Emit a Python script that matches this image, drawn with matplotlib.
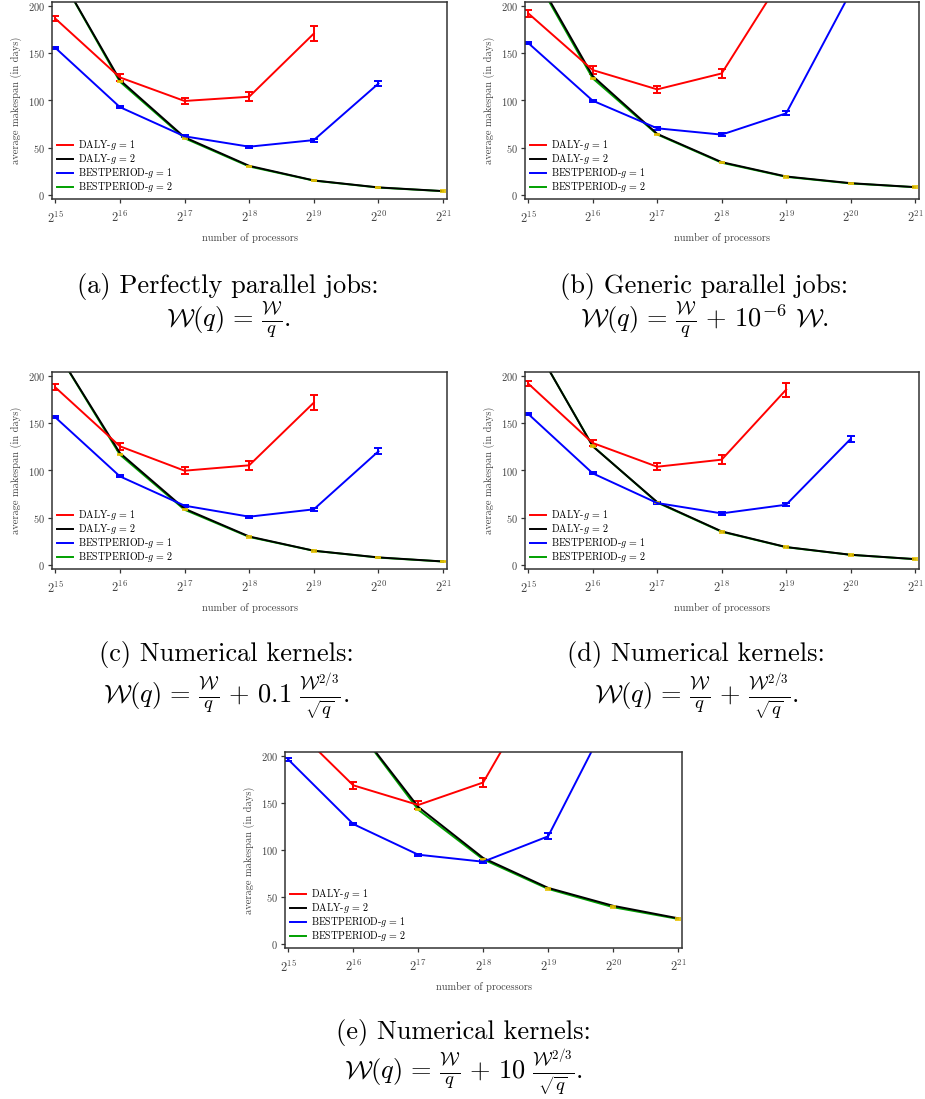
import matplotlib.pyplot as plt
from matplotlib.ticker import NullLocator

plt.rcParams['font.family'] = 'serif'
plt.rcParams['font.serif'] = ['cmr10']
plt.rcParams['mathtext.fontset'] = 'cm'
plt.rcParams['axes.unicode_minus'] = False
plt.rcParams['axes.formatter.use_mathtext'] = True

# number of processors, 2^15 .. 2^21
exponents = [15, 16, 17, 18, 19, 20, 21]
procs = [2 ** e for e in exponents]
yticks = [0, 50, 100, 150, 200]

# (a) perfectly parallel
daly1_a = [187, 124.5, 99.5, 104, 171]
daly1_err_a = [3, 3.5, 3.5, 4.5, 8]
daly2_a = [241, 121.7, 61, 30.7, 15.2, 7.8, 3.9]
best1_a = [156, 93, 62, 51, 58, 118]
best1_err_a = [1.2, 1, 1.2, 1.2, 1.5, 3]
best2_a = [241, 120, 60, 30, 15, 7.6, 3.8]

# (b) generic parallel
daly1_b = [192.5, 132.3, 111.8, 128.7, 237]
daly1_err_b = [3.5, 4, 4, 5, 8]
daly2_b = [246, 126, 64.6, 34.6, 19.4, 12.3, 8.1]
best1_b = [161, 99.8, 70.5, 63.8, 86.4, 215]
best1_err_b = [1, 1, 1.5, 1.5, 2, 3]
best2_b = [244, 123.5, 64, 34, 19, 12, 8]

# (c) numerical kernels, 0.1
daly1_c = [188.3, 125.7, 99.8, 105.5, 172]
daly1_err_c = [3, 3.5, 3.5, 4.5, 8]
daly2_c = [229, 118.6, 59.5, 30, 14.9, 7.8, 3.5]
best1_c = [156.5, 93.8, 62.7, 51, 58.8, 120.4]
best1_err_c = [1, 1, 1.2, 1.2, 1.5, 3]
best2_c = [229, 116.8, 58.4, 29.5, 14.8, 7.6, 3.4]

# (d) numerical kernels, 1
daly1_d = [192.2, 129.2, 104, 111.5, 185.8]
daly1_err_d = [3, 3.5, 4, 5, 7.5]
daly2_d = [245, 125.7, 66.5, 35.4, 18.8, 10.6, 6]
best1_d = [160, 97, 65.5, 54.5, 63.7, 133.5]
best1_err_d = [1, 1, 1.2, 1.2, 1.8, 3]
best2_d = [245, 126, 66, 35, 18.6, 10.5, 5.9]

# (e) numerical kernels, 10
daly1_e = [237, 169, 148, 172, 292]
daly1_err_e = [4, 4, 4, 5, 8]
daly2_e = [480, 235.5, 146, 91.5, 59.6, 40.5, 27.2]
best1_e = [196.5, 127.7, 95, 87.5, 114.6, 250]
best1_err_e = [1.5, 1.2, 1.2, 1.5, 3, 4]
best2_e = [475, 235, 143, 90, 58.5, 39, 26.5]

labels = [r'DALY-$g\,=\,1$', r'DALY-$g\,=\,2$',
          r'BESTPERIOD-$g\,=\,1$', r'BESTPERIOD-$g\,=\,2$']

captions = [
    '(a) Perfectly parallel jobs:',
    '(b) Generic parallel jobs:',
    '(c) Numerical kernels:',
    '(d) Numerical kernels:',
    '(e) Numerical kernels:',
]
formulas = [
    r'$\mathcal{W}(q)\,=\,\frac{\mathcal{W}}{q}.$',
    r'$\mathcal{W}(q)\,=\,\frac{\mathcal{W}}{q}\,+\,10^{-6}\ \mathcal{W}.$',
    r'$\mathcal{W}(q)\,=\,\frac{\mathcal{W}}{q}\,+\,0.1\ \frac{\mathcal{W}^{2/3}}{\sqrt{q}}.$',
    r'$\mathcal{W}(q)\,=\,\frac{\mathcal{W}}{q}\,+\,\frac{\mathcal{W}^{2/3}}{\sqrt{q}}.$',
    r'$\mathcal{W}(q)\,=\,\frac{\mathcal{W}}{q}\,+\,10\ \frac{\mathcal{W}^{2/3}}{\sqrt{q}}.$',
]

panels = [
    (daly1_a, daly1_err_a, daly2_a, best1_a, best1_err_a, best2_a),
    (daly1_b, daly1_err_b, daly2_b, best1_b, best1_err_b, best2_b),
    (daly1_c, daly1_err_c, daly2_c, best1_c, best1_err_c, best2_c),
    (daly1_d, daly1_err_d, daly2_d, best1_d, best1_err_d, best2_d),
    (daly1_e, daly1_err_e, daly2_e, best1_e, best1_err_e, best2_e),
]

W, H = 925, 1099
# axes boxes in pixels: x0, x1, y0 (top), y1 (bottom)
boxes = [(52, 447, 2, 199), (525, 919, 2, 199),
         (52, 447, 372, 569), (525, 919, 372, 569),
         (285, 682, 752, 948)]
# caption centers: x, y of first line, y of formula
cap_pos = [(228, 286, 321), (704, 286, 321),
           (226, 654, 697), (696, 654, 697),
           (463, 1032, 1073)]

RED, BLACK, BLUE, GREEN, YELLOW = '#FF0000', '#000000', '#0000FF', '#00A000', '#E6C200'
FRAME = '#333333'
LW = 1.4

fig = plt.figure(figsize=(W / 100, H / 100), dpi=100)

for (x0, x1, y0, y1), data in zip(boxes, panels):
    d1, d1e, d2, b1, b1e, b2 = data
    ax = fig.add_axes([x0 / W, 1 - y1 / H, (x1 - x0) / W, (y1 - y0) / H])

    ax.errorbar(procs[:len(d1)], d1, yerr=d1e, color=RED, lw=LW,
                capsize=2.8, capthick=LW, elinewidth=LW)
    ax.errorbar(procs[:len(b1)], b1, yerr=b1e, color=BLUE, lw=LW,
                capsize=2.8, capthick=LW, elinewidth=LW)
    ax.plot(procs, b2, color=GREEN, lw=LW)
    ax.plot(procs, d2, color=BLACK, lw=LW)
    ax.errorbar(procs[1:], b2[1:], yerr=0.8, fmt='none', ecolor=YELLOW,
                capsize=2.5, capthick=1.2, elinewidth=1.2)

    ax.set_xscale('log', base=2)
    ax.set_xlim(2 ** 14.95, 2 ** 21.06)
    ax.set_ylim(-4.5, 204.5)
    ax.set_xticks(procs)
    ax.set_xticklabels([r'$2^{%d}$' % e for e in exponents])
    ax.xaxis.set_minor_locator(NullLocator())
    ax.set_yticks(yticks)

    for s in ax.spines.values():
        s.set_color(FRAME)
        s.set_linewidth(1.1)
    ax.tick_params(axis='both', direction='out', length=3, width=0.9,
                   color=FRAME, labelcolor='#444444', labelsize=7.5)
    ax.tick_params(axis='x', pad=5, labelsize=9)
    ax.tick_params(axis='y', pad=2)
    ax.set_xlabel('number of processors', fontsize=7.5, color='#444444', labelpad=5)
    ax.set_ylabel('average makespan (in days)', fontsize=7.5, color='#444444', labelpad=4)

    handles = [plt.Line2D([], [], color=c, lw=LW) for c in (RED, BLACK, BLUE, GREEN)]
    ax.legend(handles, labels, loc='lower left', frameon=False, fontsize=7.2,
              handlelength=1.6, handletextpad=0.5, labelspacing=0.0,
              borderaxespad=0.3, borderpad=0.2)

for (cx, cy1, cy2), cap, form in zip(cap_pos, captions, formulas):
    fig.text(cx / W, 1 - cy1 / H, cap, ha='center', va='center', fontsize=19)
    fig.text(cx / W, 1 - cy2 / H, form, ha='center', va='center', fontsize=19)

fig.savefig('out.png', dpi=100)
